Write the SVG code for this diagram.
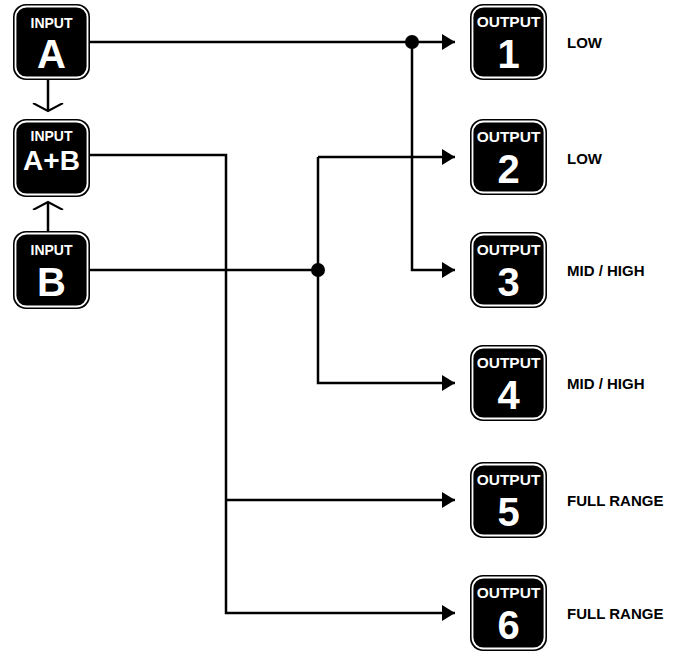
<svg xmlns="http://www.w3.org/2000/svg" width="683" height="652" viewBox="0 0 683 652">
<defs>
<style>
.ob{fill:#000;}
.ib{fill:#000;stroke:#fff;stroke-width:1.8;}
.t{font-family:"Liberation Sans",Arial,sans-serif;font-weight:bold;fill:#fff;text-anchor:middle;}
.sm{font-size:14px;}
.os{font-size:15.5px;}
.big{font-size:40px;}
.mid{font-size:28px;}
.lbl{font-family:"Liberation Sans",Arial,sans-serif;font-weight:bold;font-size:15px;fill:#000;}
.ln{fill:none;stroke:#000;stroke-width:2.5;}
.dot{fill:#000;}
</style>
<marker id="tri" markerWidth="14" markerHeight="16" refX="13" refY="8" orient="auto" markerUnits="userSpaceOnUse">
<path d="M0,0 L13,8 L0,16 Z" fill="#000"/>
</marker>
<marker id="chev" markerWidth="16" markerHeight="32" refX="8" refY="16" orient="auto" markerUnits="userSpaceOnUse">
<path d="M0,1 L8,16 L0,31" fill="none" stroke="#000" stroke-width="2"/>
</marker>
</defs>

<g id="connectors">
<path class="ln" d="M90,42 H455" marker-end="url(#tri)"/>
<path class="ln" d="M412,42 V270 H455" marker-end="url(#tri)"/>
<path class="ln" d="M90,270 H318"/>
<path class="ln" d="M318,157 H455" marker-end="url(#tri)"/>
<path class="ln" d="M318,157 V383 H455" marker-end="url(#tri)"/>
<path class="ln" d="M90,155 H226 V613 H455" marker-end="url(#tri)"/>
<path class="ln" d="M226,500 H455" marker-end="url(#tri)"/>
<path class="ln" d="M48,80 V111" marker-end="url(#chev)"/>
<path class="ln" d="M48,231 V202" marker-end="url(#chev)"/>
<circle class="dot" cx="412" cy="42" r="7"/>
<circle class="dot" cx="318" cy="270" r="7"/>
</g>

<g id="input-a">
<rect class="ob" x="13" y="4" width="77" height="76" rx="13"/>
<rect class="ib" x="15.5" y="6.5" width="72" height="71" rx="11"/>
<text class="t sm" x="51.5" y="28">INPUT</text>
<text class="t big" x="51.5" y="68">A</text>
</g>
<g id="input-ab">
<rect class="ob" x="13" y="119" width="77" height="78" rx="13"/>
<rect class="ib" x="15.5" y="121.5" width="72" height="73" rx="11"/>
<text class="t sm" x="51.5" y="141">INPUT</text>
<text class="t mid" x="51.5" y="170">A+B</text>
</g>
<g id="input-b">
<rect class="ob" x="13" y="231" width="77" height="78" rx="13"/>
<rect class="ib" x="15.5" y="233.5" width="72" height="73" rx="11"/>
<text class="t sm" x="51.5" y="255">INPUT</text>
<text class="t big" x="51.5" y="296">B</text>
</g>

<g id="output-1">
<rect class="ob" x="470" y="4" width="77" height="76" rx="13"/>
<rect class="ib" x="472.5" y="6.5" width="72" height="71" rx="11"/>
<text class="t os" x="508.5" y="27">OUTPUT</text>
<text class="t big" x="508.5" y="68">1</text>
<text class="lbl" x="567" y="48">LOW</text>
</g>
<g id="output-2">
<rect class="ob" x="470" y="119" width="77" height="76" rx="13"/>
<rect class="ib" x="472.5" y="121.5" width="72" height="71" rx="11"/>
<text class="t os" x="508.5" y="142">OUTPUT</text>
<text class="t big" x="508.5" y="183">2</text>
<text class="lbl" x="567" y="164">LOW</text>
</g>
<g id="output-3">
<rect class="ob" x="470" y="232" width="77" height="76" rx="13"/>
<rect class="ib" x="472.5" y="234.5" width="72" height="71" rx="11"/>
<text class="t os" x="508.5" y="255">OUTPUT</text>
<text class="t big" x="508.5" y="296">3</text>
<text class="lbl" x="567" y="276">MID / HIGH</text>
</g>
<g id="output-4">
<rect class="ob" x="470" y="345" width="77" height="76" rx="13"/>
<rect class="ib" x="472.5" y="347.5" width="72" height="71" rx="11"/>
<text class="t os" x="508.5" y="368">OUTPUT</text>
<text class="t big" x="508.5" y="409">4</text>
<text class="lbl" x="567" y="389">MID / HIGH</text>
</g>
<g id="output-5">
<rect class="ob" x="470" y="462" width="77" height="76" rx="13"/>
<rect class="ib" x="472.5" y="464.5" width="72" height="71" rx="11"/>
<text class="t os" x="508.5" y="485">OUTPUT</text>
<text class="t big" x="508.5" y="526">5</text>
<text class="lbl" x="567" y="506">FULL RANGE</text>
</g>
<g id="output-6">
<rect class="ob" x="470" y="575" width="77" height="76" rx="13"/>
<rect class="ib" x="472.5" y="577.5" width="72" height="71" rx="11"/>
<text class="t os" x="508.5" y="598">OUTPUT</text>
<text class="t big" x="508.5" y="639">6</text>
<text class="lbl" x="567" y="619">FULL RANGE</text>
</g>
</svg>
